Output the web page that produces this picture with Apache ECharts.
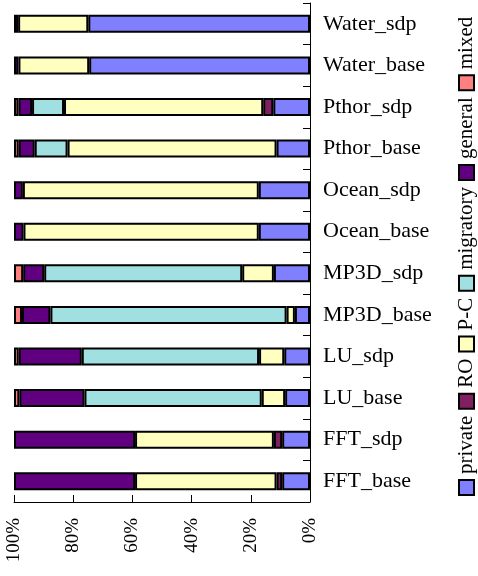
<!DOCTYPE html>
<html>
<head>
<meta charset="utf-8">
<script src="https://cdn.jsdelivr.net/npm/echarts@6/dist/echarts.min.js"></script>
<style>
html,body{margin:0;padding:0;background:#fff;}
#c{width:478px;height:576px;}
</style>
</head>
<body>
<div id="c"></div>
<script>
// Categories listed bottom -> top
var categories = ['FFT_base','FFT_sdp','LU_base','LU_sdp','MP3D_base','MP3D_sdp','Ocean_base','Ocean_sdp','Pthor_base','Pthor_sdp','Water_base','Water_sdp'];
var privateVals   = [9.4, 9.4, 8.4, 8.7, 5.1, 12.2, 17.3, 17.3, 11.3, 12.4, 74.6, 74.9];
var roVals        = [1.9, 2.8, 0, 0, 0, 0, 0, 0, 0, 3.4, 0, 0];
var pcVals        = [47.8, 46.9, 7.9, 8.5, 2.8, 10.7, 79.5, 79.7, 70.6, 67.3, 23.9, 23.7];
var migratoryVals = [0, 0, 59.9, 59.9, 79.8, 66.9, 0, 0, 11.1, 10.8, 0, 0];
var generalVals   = [40.9, 40.9, 22.0, 21.3, 9.6, 7.1, 3.2, 3.0, 5.4, 4.6, 1.5, 1.4];
var mixedVals     = [0, 0, 1.8, 1.6, 2.7, 3.1, 0, 0, 1.6, 1.5, 0, 0];
var seriesNames   = ['private','RO','P-C','migratory','general','mixed'];
var xTicks        = [0, 20, 40, 60, 80, 100];

var colors = ['#8080FF','#802060','#FFFFC0','#A0E0E0','#600080','#FF8080'];
var FONT = '"Liberation Serif", "Times New Roman", serif';
var allVals = [privateVals, roVals, pcVals, migratoryVals, generalVals, mixedVals];

var series = seriesNames.map(function(name, i){
  return {
    name: name,
    type: 'bar',
    stack: 'total',
    barWidth: 18,
    data: allVals[i].map(function(v){ return v === 0 ? '-' : v; }),
    itemStyle: { color: colors[i], borderColor: '#000', borderWidth: 2 }
  };
});

// Custom rotated legend (reads bottom to top)
var cv = document.createElement('canvas').getContext('2d');
var LFS = 21;
cv.font = LFS + 'px ' + FONT;
var legendChildren = [];
var pos = 576 - 495; // local x start (screen bottom of first square)
var SQ = 15, G1 = 6, G2 = 7;
seriesNames.forEach(function(name, i){
  legendChildren.push({
    type: 'rect',
    shape: { x: pos, y: -SQ/2, width: SQ, height: SQ },
    style: { fill: colors[i], stroke: '#000', lineWidth: 2 }
  });
  pos += SQ + G1;
  legendChildren.push({
    type: 'text',
    x: pos, y: 0,
    style: { text: name, font: LFS + 'px ' + FONT, fill: '#000', textAlign: 'left', textVerticalAlign: 'middle' }
  });
  pos += cv.measureText(name).width + G2;
});

var chart = echarts.init(document.getElementById('c'), null, {renderer: 'canvas'});
chart.setOption({
  animation: false,
  backgroundColor: '#fff',
  grid: { left: 14, right: 168, top: 3, bottom: 74 },
  xAxis: {
    type: 'value',
    inverse: true,
    min: xTicks[0],
    max: xTicks[xTicks.length - 1],
    interval: 20,
    position: 'bottom',
    axisLine: { show: true, lineStyle: { color: '#000', width: 1 } },
    axisTick: { show: true, inside: true, length: 7, lineStyle: { color: '#000' } },
    splitLine: { show: false },
    axisLabel: { rotate: 90, margin: 16, fontSize: 19, fontFamily: FONT, color: '#000', formatter: '{value}%' }
  },
  yAxis: {
    type: 'category',
    position: 'right',
    data: categories,
    axisLine: { show: true, lineStyle: { color: '#000', width: 1 } },
    axisTick: { show: true, inside: true, length: 7, lineStyle: { color: '#000' } },
    axisLabel: { margin: 13, fontSize: 22, fontFamily: FONT, color: '#000' }
  },
  series: series,
  graphic: [{
    type: 'group',
    x: 466.5, y: 576,
    rotation: Math.PI / 2,
    children: legendChildren
  }]
});
</script>
</body>
</html>
